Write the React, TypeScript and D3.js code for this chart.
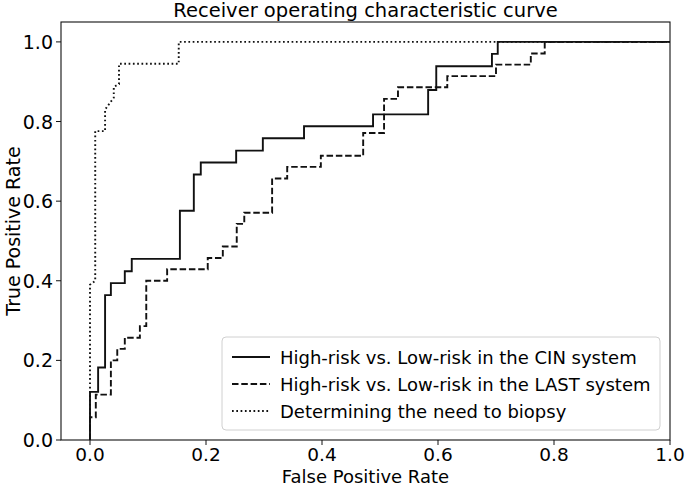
import React from "react";
import * as d3 from "d3";

const title = "Receiver operating characteristic curve";
const xLabel = "False Positive Rate";
const yLabel = "True Positive Rate";
const xTicks = [0, 0.2, 0.4, 0.6, 0.8, 1.0];
const yTicks = [0, 0.2, 0.4, 0.6, 0.8, 1.0];

const cinFpr = [0, 0, 0.014, 0.014, 0.026, 0.026, 0.036, 0.036, 0.060, 0.060, 0.072, 0.072, 0.155, 0.155, 0.179, 0.179, 0.191, 0.191, 0.252, 0.252, 0.298, 0.298, 0.369, 0.369, 0.488, 0.488, 0.583, 0.583, 0.597, 0.597, 0.693, 0.693, 0.703, 0.703, 1];
const cinTpr = [0, 0.121, 0.121, 0.182, 0.182, 0.364, 0.364, 0.394, 0.394, 0.424, 0.424, 0.455, 0.455, 0.576, 0.576, 0.667, 0.667, 0.697, 0.697, 0.727, 0.727, 0.758, 0.758, 0.788, 0.788, 0.818, 0.818, 0.879, 0.879, 0.939, 0.939, 0.970, 0.970, 1, 1];

const lastFpr = [0, 0, 0.010, 0.010, 0.036, 0.036, 0.047, 0.047, 0.060, 0.060, 0.086, 0.086, 0.097, 0.097, 0.133, 0.133, 0.203, 0.203, 0.229, 0.229, 0.253, 0.253, 0.266, 0.266, 0.314, 0.314, 0.340, 0.340, 0.398, 0.398, 0.471, 0.471, 0.507, 0.507, 0.531, 0.531, 0.616, 0.616, 0.700, 0.700, 0.760, 0.760, 0.784, 0.784, 1];
const lastTpr = [0, 0.057, 0.057, 0.114, 0.114, 0.2, 0.2, 0.229, 0.229, 0.257, 0.257, 0.286, 0.286, 0.4, 0.4, 0.429, 0.429, 0.457, 0.457, 0.486, 0.486, 0.543, 0.543, 0.571, 0.571, 0.657, 0.657, 0.686, 0.686, 0.714, 0.714, 0.771, 0.771, 0.857, 0.857, 0.886, 0.886, 0.914, 0.914, 0.943, 0.943, 0.971, 0.971, 1, 1];

const biopsyFpr = [0, 0, 0.009, 0.009, 0.026, 0.026, 0.041, 0.041, 0.050, 0.050, 0.153, 0.153, 1];
const biopsyTpr = [0, 0.39, 0.40, 0.776, 0.776, 0.83, 0.86, 0.887, 0.894, 0.945, 0.945, 1, 1];

const seriesNames = [
  "High-risk vs. Low-risk in the CIN system",
  "High-risk vs. Low-risk in the LAST system",
  "Determining the need to biopsy",
];

const W = 685, H = 487;
const margin = { left: 61, right: 15, top: 22, bottom: 47 };
const font = "DejaVu Sans, sans-serif";
const color = "#111";

export default function App() {
  const x = d3.scaleLinear().domain([-0.05, 1.0]).range([margin.left, W - margin.right]);
  const y = d3.scaleLinear().domain([0, 1.05]).range([H - margin.bottom, margin.top]);
  const line = d3.line<[number, number]>().x(d => x(d[0])).y(d => y(d[1]));
  const mk = (fx: number[], ty: number[]) => fx.map((v, i) => [v, ty[i]] as [number, number]);
  const series = [
    { d: mk(cinFpr, cinTpr), dash: undefined as string | undefined },
    { d: mk(lastFpr, lastTpr), dash: "6.5,2.8" },
    { d: mk(biopsyFpr, biopsyTpr), dash: "1.7,2.6" },
  ];
  const x0 = margin.left, x1 = W - margin.right, y0 = H - margin.bottom, y1 = margin.top;
  const legX = 222, legY = 337, legW = 438, legH = 93;
  return (
    <div style={{ position: "absolute", left: 0, top: 0, width: W, height: H }}>
      <svg width={W} height={H} style={{ display: "block", background: "#fff" }}>
        <text x={(x0 + x1) / 2} y={17} textAnchor="middle" fontFamily={font} fontSize={19.5}>{title}</text>
        <defs>
          <clipPath id="plot"><rect x={x0} y={y1} width={x1 - x0} height={y0 - y1} /></clipPath>
        </defs>
        <g clipPath="url(#plot)">
          {series.map((s, i) => (
            <path key={i} d={line(s.d) || ""} fill="none" stroke={color} strokeWidth={1.9} strokeDasharray={s.dash} />
          ))}
        </g>
        <rect x={x0} y={y1} width={x1 - x0} height={y0 - y1} fill="none" stroke={color} strokeWidth={1.1} />
        {xTicks.map(t => (
          <g key={"x" + t}>
            <line x1={x(t)} x2={x(t)} y1={y0} y2={y0 + 5} stroke={color} />
            <text x={x(t)} y={y0 + 21} textAnchor="middle" fontFamily={font} fontSize={18.5}>{t.toFixed(1)}</text>
          </g>
        ))}
        {yTicks.map(t => (
          <g key={"y" + t}>
            <line x1={x0 - 5} x2={x0} y1={y(t)} y2={y(t)} stroke={color} />
            <text x={x0 - 8} y={y(t) + 7} textAnchor="end" fontFamily={font} fontSize={19}>{t.toFixed(1)}</text>
          </g>
        ))}
        <text x={(x0 + x1) / 2} y={H - 4.5} textAnchor="middle" fontFamily={font} fontSize={18}>{xLabel}</text>
        <text transform={`translate(20,${(y0 + y1) / 2}) rotate(-90)`} textAnchor="middle" fontFamily={font} fontSize={19}>{yLabel}</text>
        <rect x={legX} y={legY} width={legW} height={legH} rx={4} fill="#fff" fillOpacity={0.85} stroke="#d0d0d0" />
        {seriesNames.map((n, i) => {
          const ly = legY + 20 + i * 27;
          return (
            <g key={n}>
              <line x1={legX + 10} x2={legX + 48} y1={ly} y2={ly} stroke={color} strokeWidth={1.9} strokeDasharray={series[i].dash} />
              <text x={legX + 58} y={ly + 6.5} fontFamily={font} fontSize={18}>{n}</text>
            </g>
          );
        })}
      </svg>
    </div>
  );
}
